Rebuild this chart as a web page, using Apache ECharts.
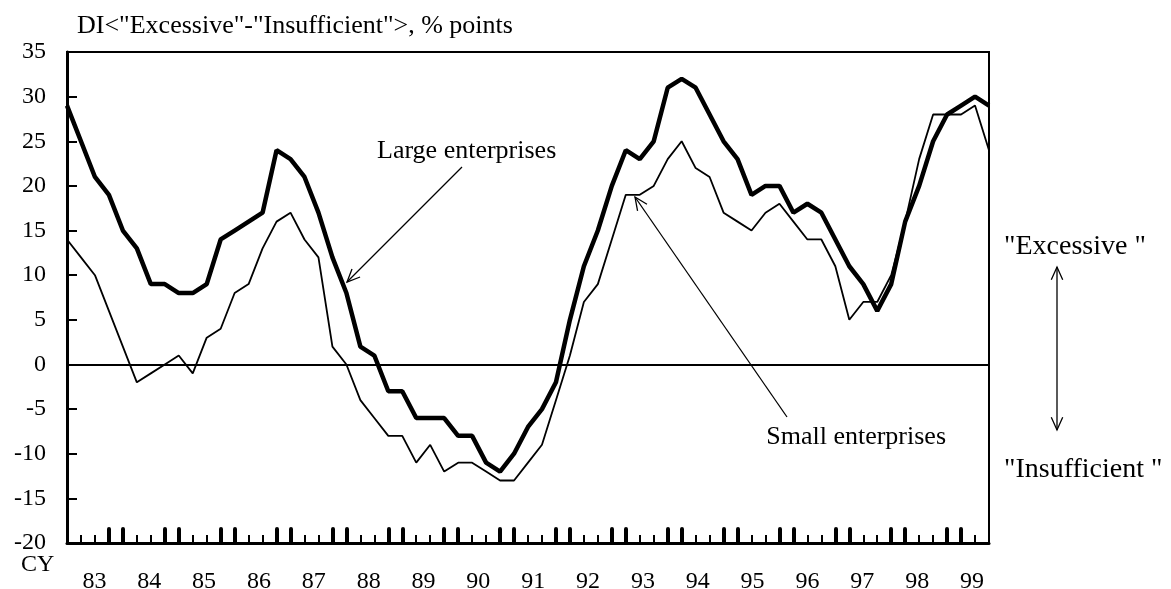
<!DOCTYPE html>
<html>
<head>
    <meta charset="UTF-8">
    <title>DI Excessive - Insufficient</title>
    <script src="https://cdn.jsdelivr.net/npm/echarts@6/dist/echarts.min.js"></script>
    <style>
        html, body { margin: 0; padding: 0; background: #fff; }
    </style>
</head>
<body>
    <div id="main" style="width:1171px;height:589px;"></div>
    <script>
        // quarterly data, 83Q1 .. 99Q3
        var years = ['83', '84', '85', '86', '87', '88', '89', '90', '91', '92', '93', '94', '95', '96', '97', '98', '99'];
        var large = [29, 25, 21, 19, 15, 13, 9, 9, 8, 8, 9, 14, 15, 16, 17, 24, 23, 21, 17, 12,
                     8, 2, 1, -3, -3, -6, -6, -6, -8, -8, -11, -12, -10, -7, -5, -2, 5, 11, 15, 20,
                     24, 23, 25, 31, 32, 31, 28, 25, 23, 19, 20, 20, 17, 18, 17, 14, 11, 9, 6, 9,
                     16, 20, 25, 28, 29, 30, 29];
        var small = [14, 12, 10, 6, 2, -2, -1, 0, 1, -1, 3, 4, 8, 9, 13, 16, 17, 14, 12, 2,
                     0, -4, -6, -8, -8, -11, -9, -12, -11, -11, -12, -13, -13, -11, -9, -4, 1, 7, 9, 14,
                     19, 19, 20, 23, 25, 22, 21, 17, 16, 15, 17, 18, 16, 14, 14, 11, 5, 7, 7, 10,
                     16, 23, 28, 28, 28, 29, 24];

        var quarters = [];
        years.forEach(function (y) {
            for (var q = 1; q <= 4; q++) quarters.push(y + 'Q' + q);
        });
        quarters = quarters.slice(0, large.length);

        var FONT = 'Liberation Serif, Times New Roman, serif';

        // open V arrow head at tip, pointing away from tail
        function arrowHead(tip, tail, len, ang) {
            var dx = tail[0] - tip[0], dy = tail[1] - tip[1];
            var d = Math.sqrt(dx * dx + dy * dy);
            var ux = dx / d, uy = dy / d;
            var c = Math.cos(ang), s = Math.sin(ang);
            return {
                type: 'polyline', silent: true,
                shape: { points: [
                    [tip[0] + len * (ux * c - uy * s), tip[1] + len * (ux * s + uy * c)],
                    tip,
                    [tip[0] + len * (ux * c + uy * s), tip[1] + len * (-ux * s + uy * c)]
                ] },
                style: { stroke: '#000', lineWidth: 1.3, fill: null }
            };
        }
        function seg(a, b) {
            return { type: 'line', silent: true,
                     shape: { x1: a[0], y1: a[1], x2: b[0], y2: b[1] },
                     style: { stroke: '#000', lineWidth: 1.3 } };
        }
        function label(text, x, y, size, align) {
            return {
                type: 'text', x: x, y: y, silent: true,
                style: {
                    text: text, fill: '#000', font: size + 'px ' + FONT,
                    textAlign: align || 'left', textVerticalAlign: 'middle',
                    align: align || 'left', verticalAlign: 'middle'
                }
            };
        }

        var graphics = [
            seg([462, 167], [347, 282]), arrowHead([347, 282], [462, 167], 14, 0.42),
            seg([787, 417], [635, 197]), arrowHead([635, 197], [787, 417], 14, 0.42),
            seg([1057, 267], [1057, 430]),
            arrowHead([1057, 267], [1057, 430], 14, 0.42),
            arrowHead([1057, 430], [1057, 267], 14, 0.42),
            label('Large enterprises', 377, 151, 26),
            label('Small enterprises', 946, 437, 26, 'right'),
            label('"Excessive "', 1004, 247, 28),
            label('"Insufficient "', 1004, 470, 28),
            label('CY', 21, 565, 24)
        ];

        var myChart = echarts.init(document.getElementById('main'));
        var option = {
            animation: false,
            backgroundColor: '#fff',
            title: {
                text: 'DI<"Excessive"-"Insufficient">, % points',
                left: 77,
                top: 13,
                padding: 0,
                textStyle: { fontFamily: FONT, fontSize: 26, fontWeight: 'normal', color: '#000' }
            },
            grid: {
                left: 67, top: 52, width: 922, height: 491,
                outerBoundsMode: 'none',
                containLabel: false,
                show: true, borderColor: '#000', borderWidth: 2
            },
            xAxis: [{
                // small quarter ticks
                type: 'category',
                data: quarters,
                boundaryGap: false,
                axisLine: { onZero: false, lineStyle: { color: '#000', width: 3 } },
                axisTick: {
                    inside: true, length: 8,
                    interval: function (i) { return i % 4 === 1 || i % 4 === 2; },
                    lineStyle: { color: '#000', width: 2 }
                },
                axisLabel: { show: false },
                splitLine: { show: false }
            }, {
                // big quarter ticks
                type: 'category',
                data: quarters,
                boundaryGap: false,
                position: 'bottom',
                axisLine: { show: false, onZero: false },
                axisTick: {
                    inside: true, length: 14,
                    interval: function (i) { return i > 0 && (i % 4 === 3 || i % 4 === 0); },
                    lineStyle: { color: '#000', width: 4, cap: 'round' }
                },
                axisLabel: { show: false },
                splitLine: { show: false }
            }, {
                // year labels
                type: 'value',
                position: 'bottom',
                min: 0,
                max: 33.62,
                interval: 1,
                axisLine: { show: false, onZero: false },
                axisTick: { show: false },
                splitLine: { show: false },
                axisLabel: {
                    margin: 27,
                    color: '#000',
                    fontFamily: FONT,
                    fontSize: 24,
                    showMaxLabel: false,
                    formatter: function (v) {
                        return (v % 2 === 1) ? years[(v - 1) / 2] : '';
                    }
                }
            }],
            yAxis: {
                type: 'value',
                min: -20,
                max: 35,
                interval: 5,
                axisLine: { show: true, lineStyle: { color: '#000', width: 3 } },
                axisTick: { show: true, inside: true, length: 10, lineStyle: { color: '#000', width: 2 } },
                axisLabel: { color: '#000', fontFamily: FONT, fontSize: 24, margin: 21 },
                splitLine: { show: false }
            },
            series: [{
                name: 'Large enterprises',
                type: 'line',
                data: large,
                symbol: 'none',
                lineStyle: { color: '#000', width: 4.5 },
                z: 3
            }, {
                name: 'Small enterprises',
                type: 'line',
                data: small,
                symbol: 'none',
                lineStyle: { color: '#000', width: 1.8 },
                markLine: {
                    silent: true,
                    symbol: 'none',
                    label: { show: false },
                    lineStyle: { color: '#000', width: 2, type: 'solid' },
                    data: [{ yAxis: 0 }]
                },
                z: 2
            }],
            graphic: graphics
        };
        myChart.setOption(option);
    </script>
</body>
</html>
